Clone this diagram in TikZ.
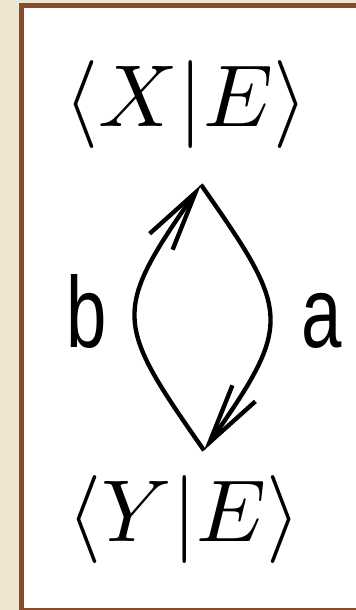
\documentclass[tikz,border=0pt]{standalone}
\usepackage{fontspec}
\usepackage{tikz}
\usetikzlibrary{positioning,arrows.meta,calc}
\usepackage{xcolor}

\newfontfamily\lblfont[FakeStretch=0.72]{Liberation Sans}
\definecolor{parchment}{HTML}{EEE6D0}
\definecolor{framebrown}{HTML}{8A4B2A}

\begin{document}
\begin{tikzpicture}[
        braket/.style={
            inner sep=0pt,
            anchor=base,
            scale=7.5,
            transform shape
        },
        lbl/.style={
            font=\lblfont\fontsize{86}{90}\selectfont,
            inner sep=0pt,
            text height=1.8cm,
            text depth=0pt
        },
        arr/.style={
            -{Straight Barb[length=1.8cm,width=0.84cm]},
            line width=0.13cm
        },
        frame/.style={
            draw=framebrown,
            fill=white,
            line width=0.15cm
        }
    ]

    \useasboundingbox (0,0) rectangle (10.68,18.3);

    % =========================
    % Background and frame
    % =========================
    \fill[parchment] (0,0) rectangle (10.68,18.3);
    \draw[frame] (0.645,-0.015) rectangle (10.755,18.135);

    % =========================
    % States
    % =========================
    \node[braket] (XE) at (5.58,14.49) {$\langle X|E\rangle$};
    \node[braket] (YE) at (5.52,2.04) {$\langle Y|E\rangle$};

    \coordinate (T) at ($(XE.south)+(0.45,-1.02)$);
    \coordinate (B) at ($(YE.north)+(0.6,0.72)$);

    % =========================
    % Transitions
    % =========================
    \draw[arr] (T) to[out=-55, in=55, looseness=1.5]
        node[lbl, right=0.9cm] (La) {a} (B);
    \draw[arr] (B) to[out=125, in=-125, looseness=1.5]
        node[lbl, left=0.8cm] (Lb) {b} (T);

\end{tikzpicture}
\end{document}
